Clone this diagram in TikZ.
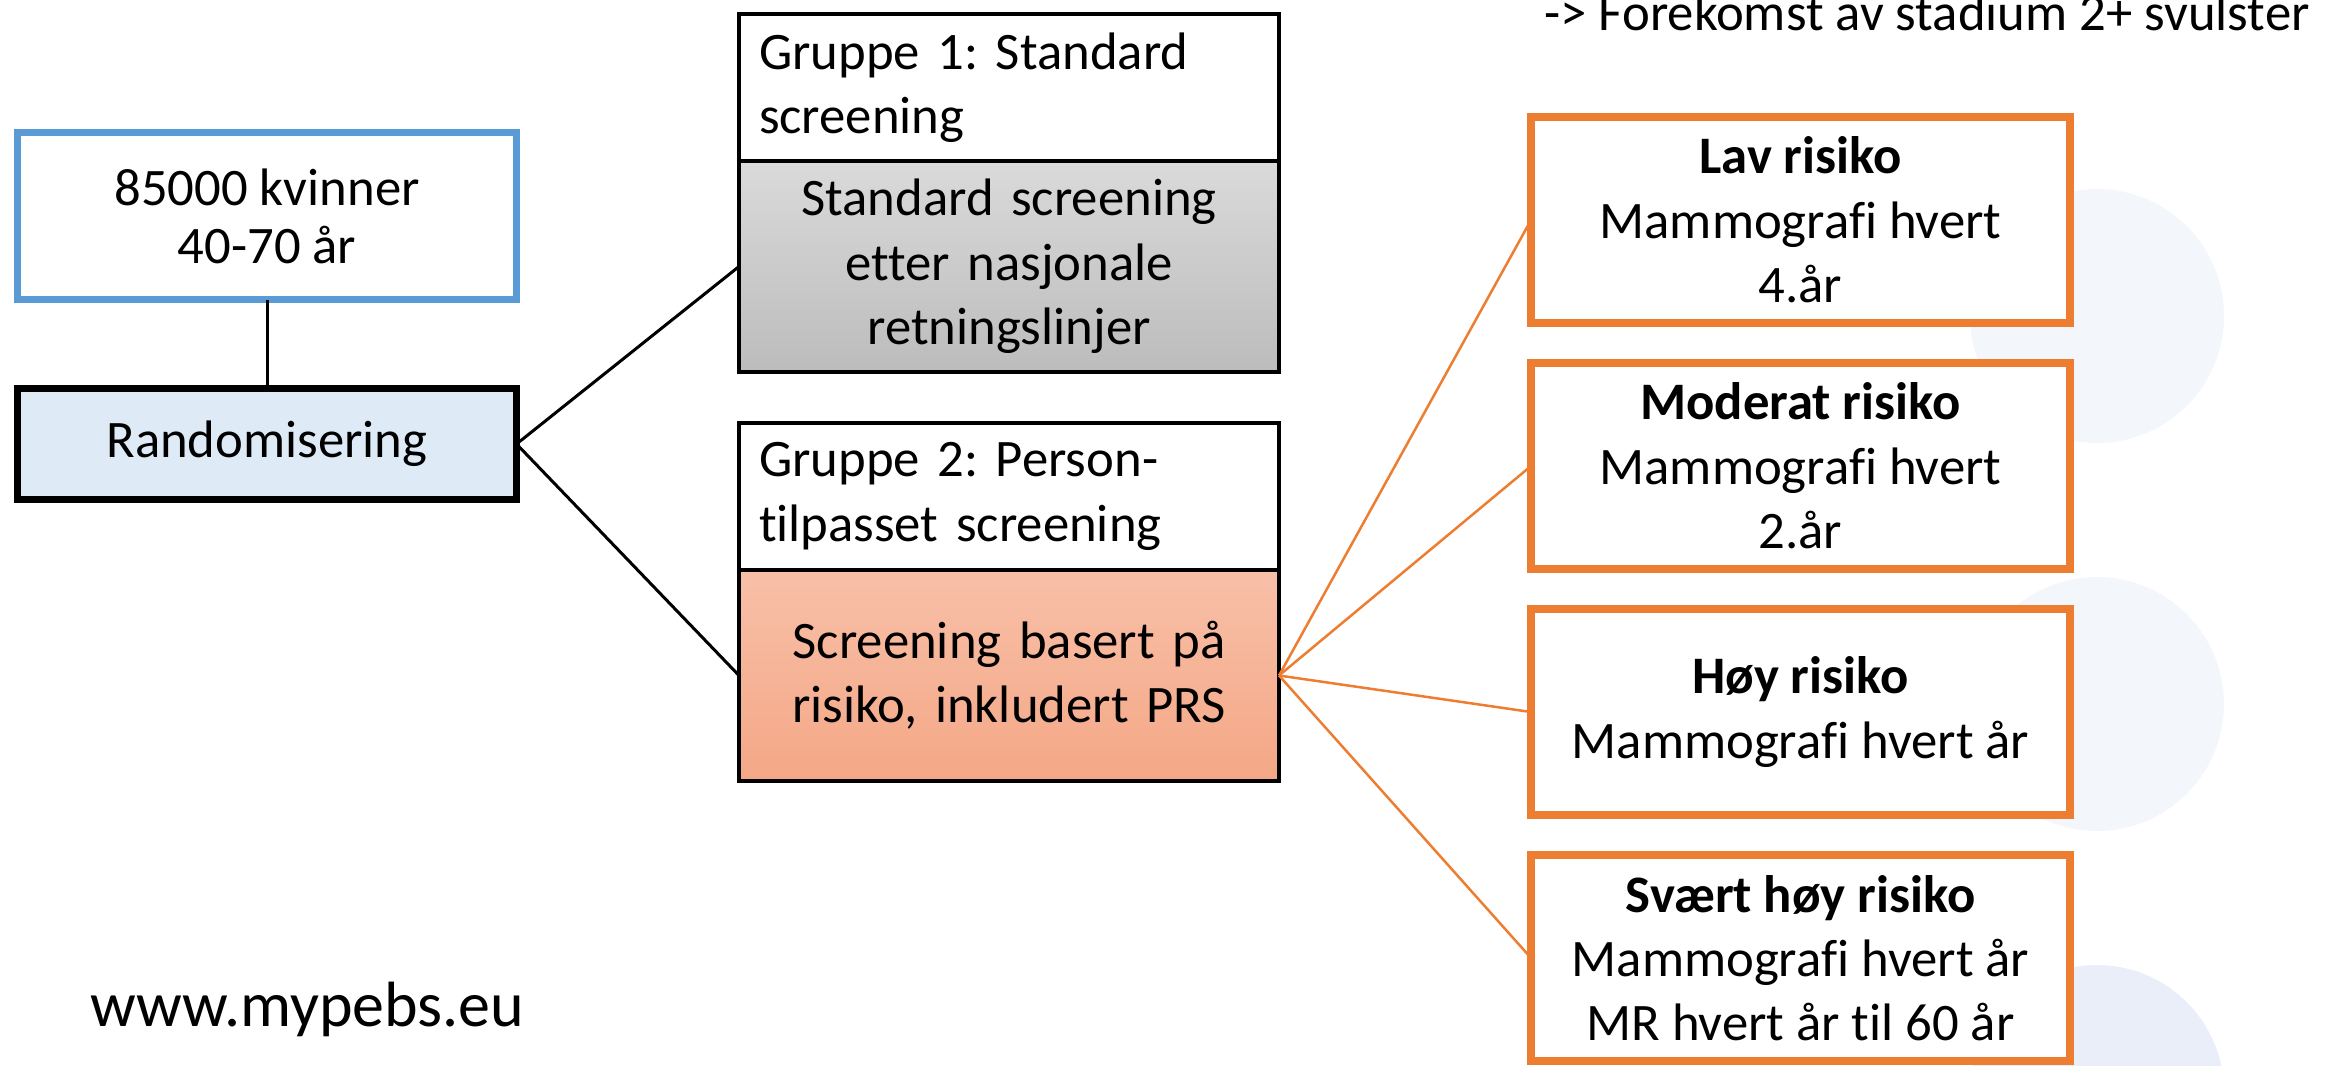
\documentclass[tikz,border=0pt]{standalone}
\usepackage{fontspec}
\setmainfont{Carlito}[Ligatures=NoCommon]
\usepackage{xcolor}
\definecolor{mporange}{RGB}{237,125,49}
\definecolor{mpblue}{RGB}{91,155,213}
\definecolor{mplightblue}{RGB}{222,235,247}
\definecolor{mpgraytop}{RGB}{218,218,218}
\definecolor{mpgraybot}{RGB}{188,188,188}
\definecolor{mpsalmontop}{RGB}{248,192,168}
\definecolor{mpsalmonbot}{RGB}{244,167,134}
\definecolor{mpcircle}{RGB}{243,247,252}
\definecolor{mpcircledark}{RGB}{234,238,248}
\usetikzlibrary{positioning}
\frenchspacing

\tikzset{
  txt/.style={font=\fontsize{15}{18.3}\selectfont},
  popbox/.style={draw=mpblue, line width=0.07cm, fill=white, txt, align=center,
    inner sep=0pt, outer sep=0pt, minimum width=4.99cm, minimum height=1.67cm},
  randbox/.style={popbox, draw=black, fill=mplightblue, minimum height=1.11cm},
  grphead/.style={draw=black, line width=0.04cm, fill=white, txt, align=left,
    text width=5.0cm, inner xsep=0.2cm, inner ysep=0pt, outer sep=0pt, minimum height=1.47cm},
  grpbody/.style={draw=black, line width=0.04cm, txt, align=center,
    text width=5.4cm, inner sep=0pt, outer sep=0pt, minimum height=2.11cm},
  riskbox/.style={draw=mporange, line width=0.08cm, fill=white, txt, align=center,
    inner sep=0pt, outer sep=0pt, minimum width=5.39cm, minimum height=2.06cm},
  link/.style={line width=0.03cm},
  risklink/.style={draw=mporange, line width=0.025cm}
}

\begin{document}
\begin{tikzpicture}
  \useasboundingbox (0,0) rectangle (23.39,-10.65);

  % Background circles
  \fill[mpcircle] (20.97,-3.16) circle (1.27);
  \fill[mpcircle] (20.97,-7.04) circle (1.27);
  \fill[mpcircledark] (20.97,-10.92) circle (1.27);

  % Outcome note (top right)
  \node[txt, anchor=base west] (outcome) at (15.32,-0.30) {-> Forekomst av stadium 2+ svulster};

  % Population and randomisation
  \node[popbox] (women) at (2.67,-2.16) {85000 kvinner\\[-1.8pt]40-70 år};
  \node[randbox] (rand) at (2.67,-4.44) {Randomisering};
  \draw[link] (women) -- (rand);

  % Group 1
  \node[grphead] (head1) at (10.09,-0.875) {Gruppe 1: Standard\\screening};
  \node[grpbody, below=0pt of head1, top color=mpgraytop, bottom color=mpgraybot] (body1)
       {Standard screening\\etter nasjonale\\retningslinjer};

  % Group 2
  \node[grphead] (head2) at (10.09,-4.965) {Gruppe 2: Person-\\tilpasset screening};
  \node[grpbody, below=0pt of head2, top color=mpsalmontop, bottom color=mpsalmonbot] (body2)
       {Screening basert på\\risiko, inkludert PRS};

  \draw[link] (rand.east) -- (body1.west);
  \draw[link] (rand.east) -- (body2.west);

  % Risk levels
  \foreach \name/\ypos/\label in {
      lav/2.20/{\textbf{Lav risiko}\\Mammografi hvert\\4.år},
      moderat/4.66/{\textbf{Moderat risiko}\\Mammografi hvert\\2.år},
      hoy/7.12/{\textbf{Høy risiko}\\Mammografi hvert år},
      svaert/9.58/{\textbf{Svært høy risiko}\\Mammografi hvert år\\MR hvert år til 60 år}} {
    \node[riskbox] (\name) at (18.005,-\ypos) {\label};
    \draw[risklink] (body2.east) -- (\name.west);
  }

  % Web address
  \node[font=\fontsize{18.2}{22}\selectfont, anchor=base west] (web) at (0.78,-10.26) {www.mypebs.eu};
\end{tikzpicture}
\end{document}
